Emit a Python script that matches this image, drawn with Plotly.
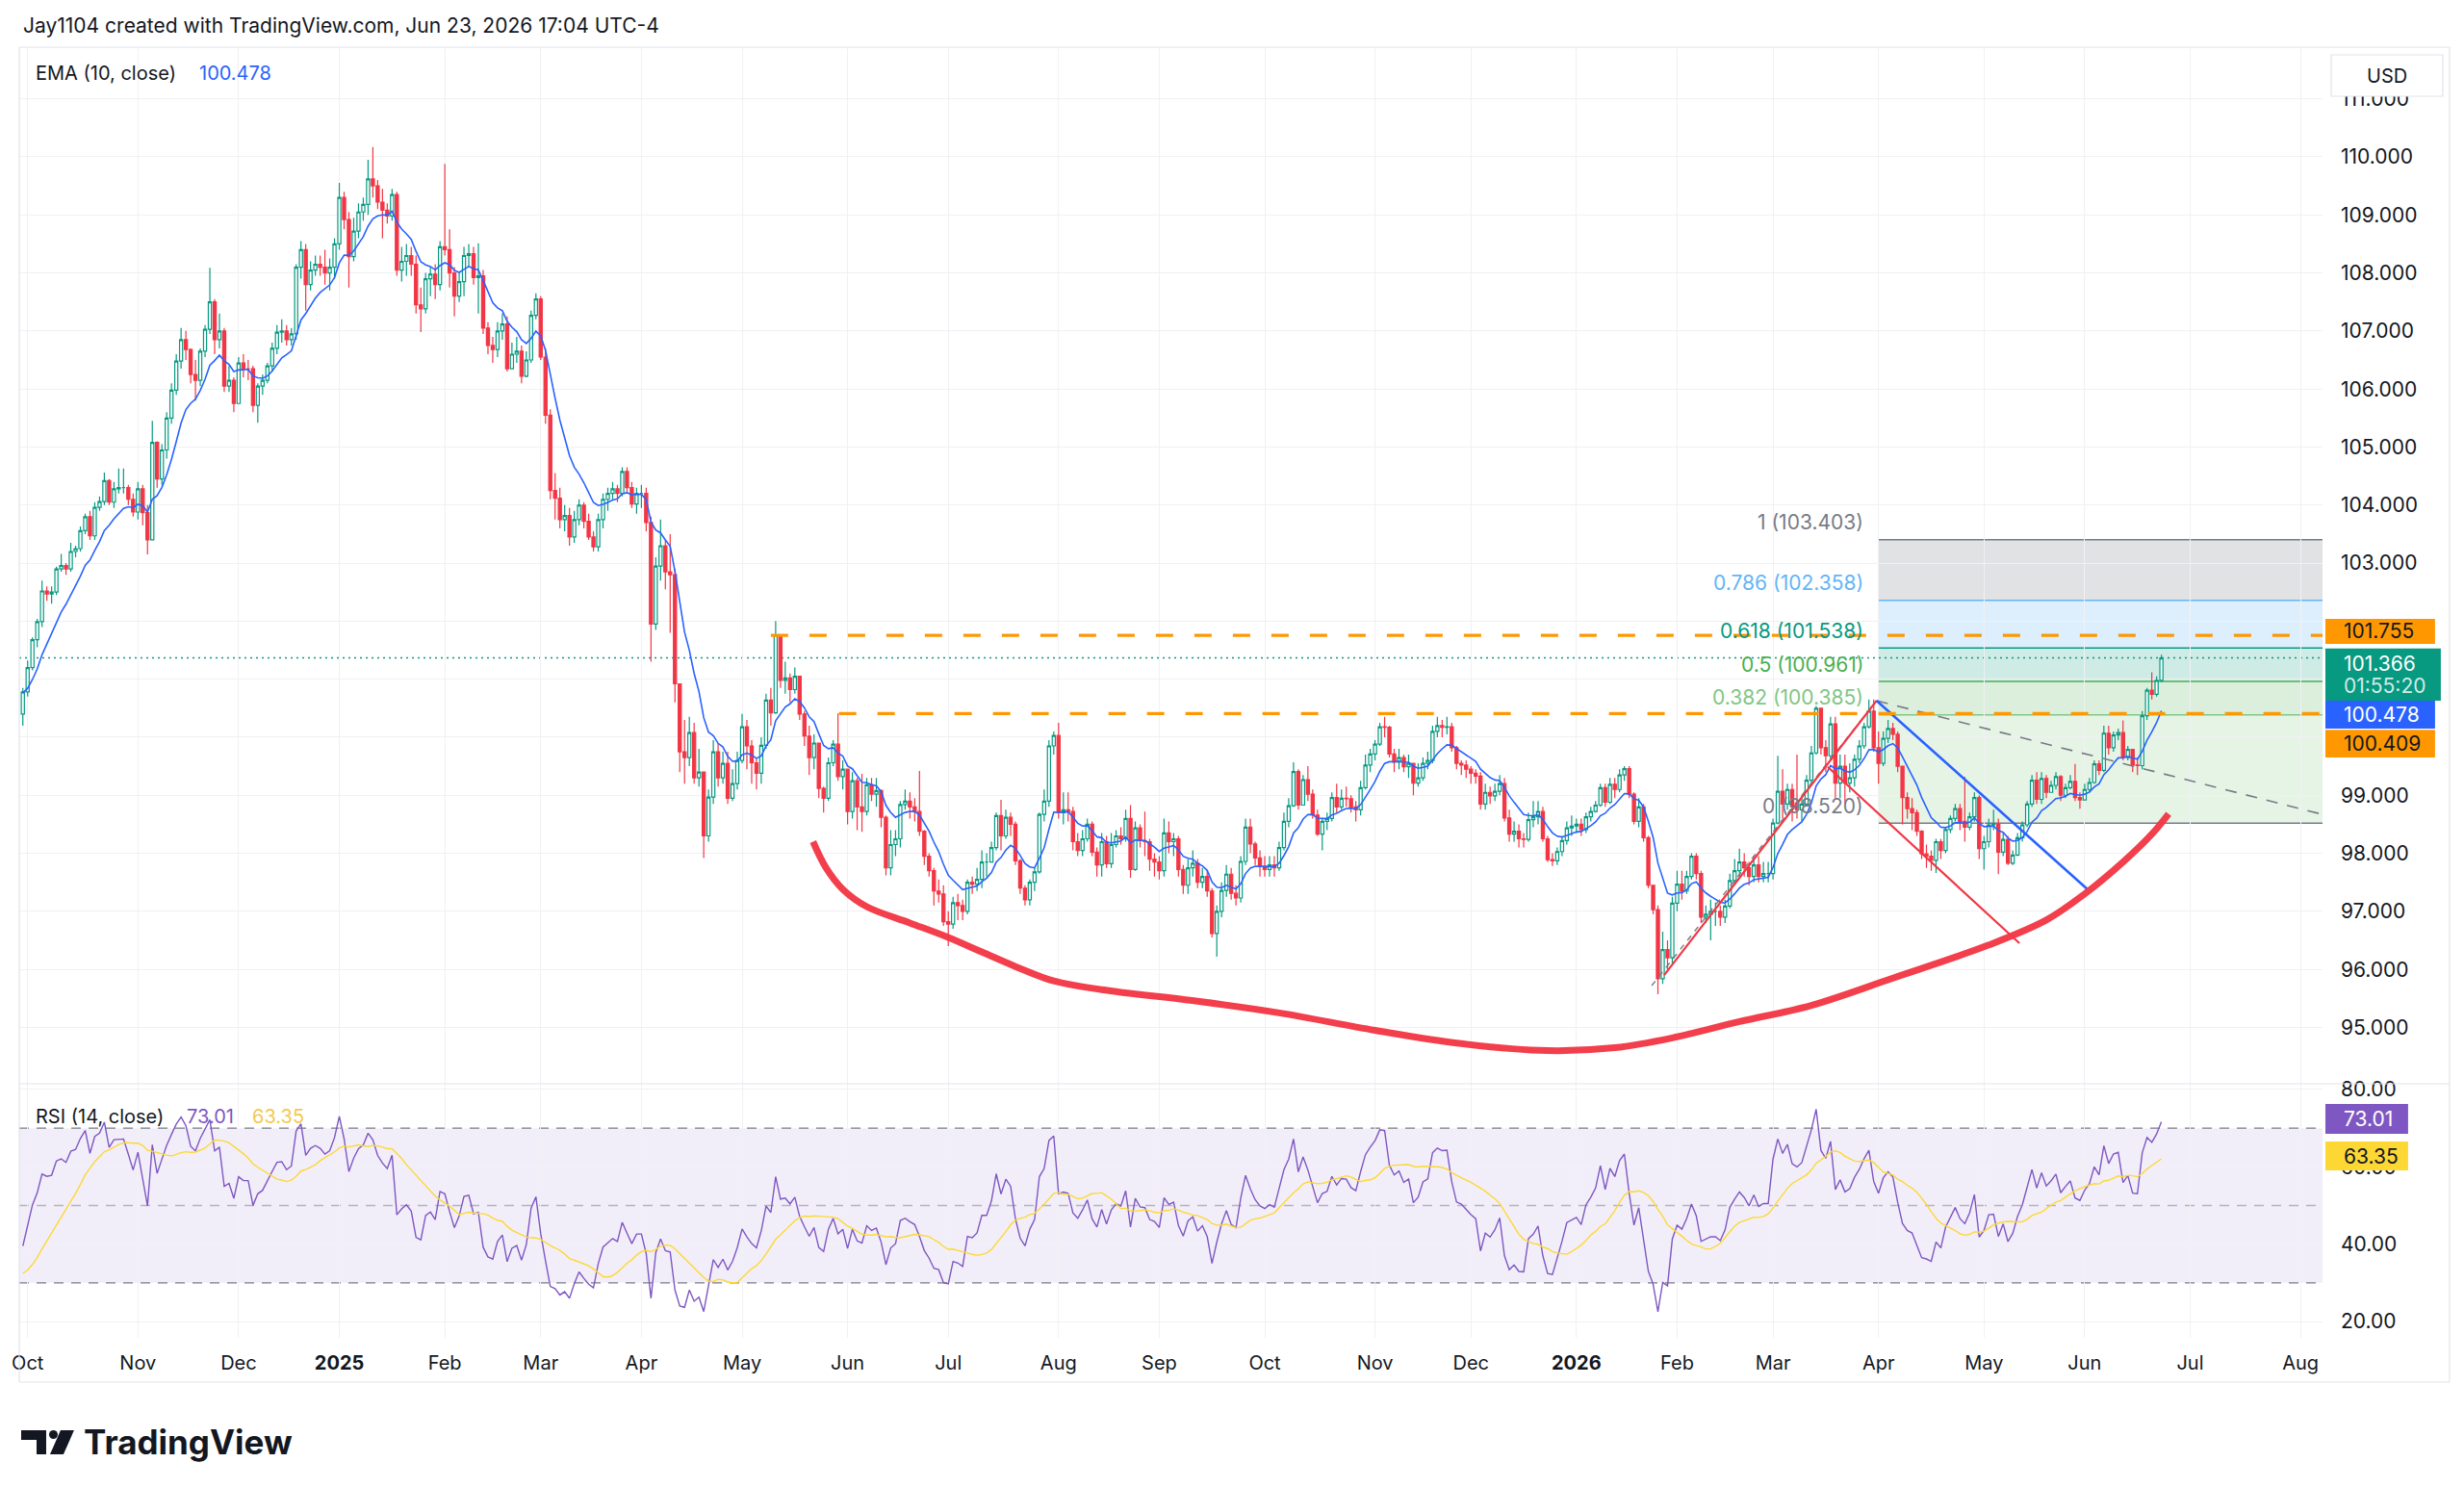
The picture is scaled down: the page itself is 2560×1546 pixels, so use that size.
import numpy as np
import pandas as pd
import plotly.graph_objects as go
from plotly.subplots import make_subplots

# ---------------------------------------------------------------
# daily closes / highs / lows (open = prev close)
# ---------------------------------------------------------------
# warm-up closes (Aug 12 - Sep 27 2024), only used for EMA / RSI
warm_close = [103.15, 102.6, 102.6, 103.0, 102.45, 101.85, 101.45, 101.1, 101.5, 100.7,
              100.85, 100.55, 101.1, 101.35, 101.7, 101.65, 101.85, 101.35, 101.1, 101.2,
              101.6, 101.65, 101.7, 101.35, 101.1, 100.75, 100.9, 100.65, 101.2, 100.7,
              100.85, 100.4, 100.9, 100.55, 100.4]

c_2409 = [100.78]
h_2409 = [100.85]
l_2409 = [100.2]

c_2410 = [101.2, 101.68, 101.99, 102.52, 102.47, 102.5, 102.9, 102.96, 102.9, 103.2, 103.25, 103.56,
          103.8, 103.47, 103.96, 104.06, 104.42, 104.05, 104.28, 104.3, 104.3, 104.1, 103.88]
h_2410 = [101.32, 101.72, 102.04, 102.7, 102.6, 102.6, 102.94, 103.16, 103.0, 103.35, 103.3, 103.63,
          103.85, 103.9, 104.05, 104.15, 104.56, 104.45, 104.4, 104.63, 104.63, 104.35, 104.2]
l_2410 = [100.7, 101.15, 101.55, 101.9, 102.35, 102.3, 102.45, 102.85, 102.8, 102.85, 103.1, 103.2,
          103.5, 103.4, 103.4, 103.9, 104.0, 104.0, 103.95, 104.2, 104.2, 104.0, 103.8]

c_2411 = [104.28, 103.87, 103.4, 105.08, 104.45, 104.95, 105.5, 105.98, 106.48, 106.85, 106.68,
          106.25, 106.15, 106.65, 107.03, 107.5, 106.85, 107.0, 106.05, 106.15, 105.75]
h_2411 = [104.4, 104.35, 104.0, 105.45, 105.1, 105.05, 105.6, 106.1, 106.6, 107.05, 107.0,
          106.7, 106.5, 106.7, 107.1, 108.09, 107.55, 107.3, 107.05, 106.4, 106.2]
l_2411 = [103.75, 103.65, 103.15, 103.4, 104.3, 104.35, 104.8, 105.4, 105.9, 106.35, 106.5,
          106.1, 105.8, 106.05, 106.55, 106.95, 106.6, 106.7, 105.95, 105.95, 105.6]

c_2412 = [106.45, 106.35, 106.35, 105.72, 106.05, 106.15, 106.4, 106.7, 106.98, 107.0, 106.85,
          106.95, 108.1, 108.4, 107.8, 108.05, 108.15, 108.1, 108.0, 108.1, 108.5]
h_2412 = [106.55, 106.6, 106.5, 106.4, 106.1, 106.25, 106.45, 106.8, 107.1, 107.2, 107.1,
          107.05, 108.15, 108.55, 108.5, 108.2, 108.3, 108.3, 108.4, 108.25, 108.6]
l_2412 = [105.75, 106.2, 106.15, 105.6, 105.42, 105.9, 106.1, 106.3, 106.6, 106.8, 106.75,
          106.75, 106.85, 107.9, 107.35, 107.7, 107.95, 107.95, 107.8, 107.7, 107.9]

c_2501 = [109.3, 108.92, 108.28, 108.72, 109.05, 109.18, 109.62, 109.5, 109.22, 109.08, 108.98,
          109.35, 108.05, 108.2, 108.3, 108.15, 107.45, 107.38, 107.9, 107.98, 107.8, 108.45]
h_2501 = [109.55, 109.4, 109.05, 108.95, 109.2, 109.3, 109.95, 110.17, 109.6, 109.45, 109.2,
          109.45, 109.4, 108.45, 108.5, 108.45, 108.3, 107.75, 108.0, 108.1, 108.15, 108.55]
l_2501 = [108.4, 108.75, 107.75, 108.2, 108.6, 108.9, 109.0, 109.3, 109.1, 108.6, 108.85,
          108.9, 107.95, 107.85, 107.95, 107.95, 107.3, 106.98, 107.3, 107.6, 107.55, 107.7]

c_2502 = [108.4, 108.0, 107.6, 107.85, 108.3, 108.33, 107.92, 107.95, 107.05, 106.75,
          106.68, 107.0, 107.12, 106.35, 106.6, 106.65, 106.22, 106.5, 107.27, 107.55]
h_2502 = [109.88, 108.75, 108.1, 108.0, 108.45, 108.5, 108.45, 108.51, 108.05, 107.15,
          106.9, 107.15, 107.3, 107.25, 106.8, 106.9, 106.75, 106.65, 107.35, 107.65]
l_2502 = [108.3, 107.75, 107.25, 107.5, 107.6, 108.1, 107.8, 107.3, 106.95, 106.6,
          106.45, 106.55, 106.85, 106.3, 106.35, 106.45, 106.1, 106.2, 106.45, 107.2]

c_2503 = [106.55, 105.55, 104.25, 104.12, 103.75, 103.82, 103.45, 103.75, 104.0, 103.72, 103.45,
          103.28, 103.75, 104.1, 104.2, 104.28, 104.2, 104.58, 104.3, 104.02, 104.2]
h_2503 = [107.6, 106.7, 105.65, 104.55, 104.3, 104.0, 103.95, 103.9, 104.1, 104.05, 103.85,
          103.55, 103.85, 104.2, 104.3, 104.4, 104.35, 104.65, 104.65, 104.4, 104.3]
l_2503 = [106.5, 105.4, 104.1, 103.75, 103.6, 103.55, 103.3, 103.35, 103.65, 103.6, 103.4,
          103.2, 103.2, 103.6, 103.9, 104.1, 104.05, 104.15, 104.2, 103.95, 103.85]

c_2504 = [104.2, 103.7, 101.95, 102.95, 103.3, 102.85, 102.8, 100.92, 99.75, 99.65, 100.08,
          99.3, 99.4, 98.3, 98.97, 99.75, 99.3, 99.55, 98.95, 99.2, 99.6]
h_2504 = [104.35, 104.3, 103.8, 103.1, 103.75, 103.4, 103.5, 102.9, 100.9, 100.3, 100.35,
          100.25, 99.8, 99.4, 99.1, 99.95, 99.9, 99.75, 99.75, 99.45, 99.75]
l_2504 = [103.95, 103.55, 101.3, 101.85, 102.7, 102.55, 101.8, 100.6, 99.4, 99.2, 99.5,
          99.2, 99.15, 97.92, 98.2, 98.85, 99.15, 99.2, 98.85, 98.9, 99.1]

c_2505 = [100.18, 99.85, 99.56, 99.38, 99.86, 100.64, 100.42, 101.76, 100.98, 101.02, 100.82,
          101.05, 100.4, 100.02, 99.65, 99.9, 99.12, 98.95, 99.56, 99.88, 99.32, 99.45]
h_2505 = [100.4, 100.3, 99.95, 99.65, 100.0, 100.75, 100.85, 102.0, 101.75, 101.3, 101.1,
          101.2, 101.0, 100.45, 100.2, 100.05, 99.9, 99.15, 99.65, 99.95, 100.41, 99.6]
l_2505 = [99.55, 99.45, 99.2, 99.1, 99.2, 99.8, 100.2, 100.4, 100.85, 100.75, 100.6,
          100.75, 100.3, 99.85, 99.35, 99.45, 98.95, 98.7, 98.9, 99.5, 99.25, 99.1]

c_2506 = [98.72, 99.25, 98.8, 98.72, 99.18, 99.02, 99.08, 98.62, 97.75, 98.15, 98.25,
          98.84, 98.9, 98.8, 98.72, 98.38, 97.95, 97.7, 97.35, 97.3, 96.82]
h_2506 = [99.2, 99.4, 99.3, 99.37, 99.3, 99.3, 99.3, 99.1, 98.65, 98.4, 98.4,
          98.9, 99.1, 99.05, 98.95, 99.42, 98.4, 98.0, 97.75, 97.55, 97.45]
l_2506 = [98.5, 98.6, 98.4, 98.37, 98.65, 98.9, 98.8, 98.45, 97.62, 97.62, 97.95,
          98.1, 98.75, 98.6, 98.55, 98.3, 97.8, 97.6, 97.1, 97.15, 96.75]

c_2507 = [96.78, 97.15, 97.1, 97.0, 97.5, 97.47, 97.55, 97.85, 97.85, 98.1, 98.65, 98.3,
          98.62, 98.5, 97.87, 97.4, 97.2, 97.5, 97.68, 98.67, 98.9, 99.85, 100.03]
h_2507 = [97.0, 97.25, 97.3, 97.2, 97.55, 97.6, 97.75, 98.05, 98.0, 98.2, 98.7, 98.92,
          98.75, 98.7, 98.55, 97.9, 97.45, 97.55, 97.75, 98.7, 99.1, 99.95, 100.1]
l_2507 = [96.4, 96.7, 96.85, 96.85, 96.95, 97.3, 97.35, 97.4, 97.6, 97.85, 98.05, 98.05,
          98.25, 98.3, 97.8, 97.3, 97.1, 97.1, 97.35, 97.65, 98.55, 98.8, 99.7]

c_2508 = [98.7, 98.75, 98.72, 98.2, 98.05, 98.25, 98.5, 98.02, 97.8, 98.2, 97.82,
          98.15, 98.3, 98.25, 98.6, 97.72, 98.44, 98.22, 98.2, 97.9, 97.85]
h_2508 = [100.25, 99.05, 99.05, 98.8, 98.35, 98.4, 98.6, 98.55, 98.1, 98.35, 98.3,
          98.35, 98.4, 98.45, 98.75, 98.83, 98.55, 98.5, 98.72, 98.25, 98.0]
l_2508 = [98.6, 98.5, 98.55, 98.05, 97.95, 97.95, 98.2, 97.95, 97.6, 97.6, 97.75,
          97.75, 98.1, 98.15, 98.2, 97.58, 97.7, 98.1, 97.95, 97.7, 97.6]

c_2509 = [97.7, 98.35, 98.2, 98.25, 97.72, 97.45, 97.75, 97.83, 97.5, 97.6, 97.35,
          96.62, 97.0, 97.36, 97.64, 97.31, 97.23, 97.86, 98.45, 98.16, 97.92, 97.78]
h_2509 = [97.95, 98.6, 98.55, 98.35, 98.3, 97.8, 97.9, 98.05, 97.9, 97.75, 97.7,
          97.4, 97.1, 97.5, 97.8, 97.75, 97.45, 97.95, 98.6, 98.6, 98.2, 98.05]
l_2509 = [97.55, 97.6, 98.0, 97.95, 97.6, 97.3, 97.3, 97.6, 97.4, 97.4, 97.25,
          96.55, 96.22, 96.9, 97.25, 97.2, 97.1, 97.15, 97.8, 98.0, 97.8, 97.6]

c_2510 = [97.72, 97.8, 97.75, 98.1, 98.55, 98.82, 99.41, 98.83, 99.27, 99.02, 98.66, 98.33,
          98.55, 98.6, 98.96, 98.8, 98.95, 98.94, 98.8, 98.75, 99.13, 99.52, 99.71]
h_2510 = [97.95, 97.95, 97.95, 98.2, 98.7, 98.95, 99.57, 99.45, 99.35, 99.5, 99.1, 98.75,
          98.6, 98.7, 99.05, 99.2, 99.1, 99.15, 99.0, 98.9, 99.25, 99.7, 99.8]
l_2510 = [97.6, 97.6, 97.6, 97.7, 98.05, 98.45, 98.8, 98.75, 98.85, 98.9, 98.6, 98.3,
          98.05, 98.4, 98.55, 98.7, 98.75, 98.8, 98.7, 98.55, 98.65, 99.1, 99.4]

c_2511 = [99.88, 100.18, 100.17, 99.71, 99.57, 99.65, 99.49, 99.55, 99.21, 99.3,
          99.55, 99.6, 100.1, 100.2, 100.17, 100.18, 99.82, 99.55, 99.52, 99.45]
h_2511 = [99.95, 100.25, 100.35, 100.2, 99.8, 99.8, 99.7, 99.7, 99.55, 99.55,
          99.65, 99.75, 100.2, 100.35, 100.3, 100.35, 100.25, 99.85, 99.6, 99.6]
l_2511 = [99.6, 99.85, 100.0, 99.65, 99.4, 99.45, 99.4, 99.3, 99.0, 99.15,
          99.25, 99.45, 99.55, 100.0, 100.0, 100.05, 99.75, 99.45, 99.35, 99.3]

c_2512 = [99.38, 99.33, 98.85, 99.05, 98.99, 99.07, 99.2, 98.61, 98.33, 98.38, 98.25,
          98.24, 98.58, 98.63, 98.72, 98.25, 97.89, 97.87, 98.03, 98.22, 98.44, 98.47]
h_2512 = [99.5, 99.45, 99.4, 99.2, 99.15, 99.2, 99.35, 99.3, 98.75, 98.55, 98.5,
          98.35, 98.7, 98.9, 98.9, 98.8, 98.3, 98.0, 98.1, 98.3, 98.55, 98.65]
l_2512 = [99.2, 99.2, 98.75, 98.75, 98.85, 98.9, 99.0, 98.55, 98.2, 98.2, 98.1,
          98.1, 98.2, 98.45, 98.5, 98.2, 97.85, 97.78, 97.8, 97.95, 98.15, 98.3]

c_2601 = [98.5, 98.41, 98.63, 98.72, 98.83, 99.13, 98.88, 99.19, 99.1, 99.35, 99.46,
          99.02, 98.55, 98.8, 98.27, 97.45, 97.03, 95.84, 96.34, 96.2, 97.14]
h_2601 = [98.6, 98.6, 98.7, 98.8, 98.9, 99.2, 99.2, 99.3, 99.3, 99.45, 99.5,
          99.5, 99.05, 98.95, 98.85, 98.3, 97.35, 97.1, 96.65, 96.5, 97.25]
l_2601 = [98.35, 98.3, 98.35, 98.55, 98.7, 98.8, 98.8, 98.85, 98.95, 99.05, 99.25,
          98.95, 98.5, 98.45, 98.2, 97.4, 96.95, 95.57, 95.75, 96.0, 96.1]

c_2602 = [97.47, 97.35, 97.6, 97.95, 97.65, 96.9, 96.95, 97.0, 97.0, 96.9,
          97.09, 97.53, 97.7, 97.85, 97.75, 97.6, 97.8, 97.6, 97.65, 97.65]
h_2602 = [97.7, 97.7, 97.7, 98.0, 98.0, 97.7, 97.1, 97.2, 97.15, 97.1,
          97.2, 97.65, 97.9, 98.08, 98.0, 97.85, 97.95, 97.95, 97.85, 97.85]
l_2602 = [97.0, 97.2, 97.3, 97.55, 97.55, 96.8, 96.8, 96.5, 96.75, 96.75,
          96.8, 97.05, 97.45, 97.6, 97.6, 97.45, 97.5, 97.5, 97.5, 97.5]

c_2603 = [98.52, 99.07, 98.85, 99.1, 98.8, 98.75, 98.85, 99.26, 99.73, 100.5, 99.82,
          99.68, 100.23, 99.21, 99.5, 99.21, 99.3, 99.62, 99.85, 100.18, 100.45, 99.82]
h_2603 = [98.6, 99.68, 99.45, 99.2, 99.2, 99.7, 99.0, 99.35, 99.85, 100.54, 100.45,
          99.95, 100.35, 100.35, 99.7, 99.7, 99.55, 99.7, 99.95, 100.25, 100.65, 100.65]
l_2603 = [97.55, 98.5, 98.6, 98.75, 98.55, 98.6, 98.55, 98.8, 99.2, 99.7, 99.7,
          99.4, 99.6, 98.95, 98.95, 98.85, 99.05, 99.15, 99.55, 99.8, 100.15, 99.75]

c_2604 = [99.55, 99.98, 100.15, 100.05, 99.5, 98.96, 98.77, 98.7, 98.38, 97.99, 97.95,
          97.88, 98.2, 98.05, 98.41, 98.6, 98.77, 98.55, 98.45, 98.63, 98.96, 98.08]
h_2604 = [100.1, 100.1, 100.3, 100.25, 100.1, 99.18, 99.05, 98.95, 98.75, 98.4, 98.15,
          98.05, 98.25, 98.25, 98.45, 98.65, 98.85, 98.85, 99.32, 98.7, 99.05, 99.0]
l_2604 = [99.2, 99.5, 99.9, 99.95, 99.4, 98.5, 98.6, 98.4, 98.3, 97.9, 97.75,
          97.7, 97.66, 97.9, 98.0, 98.35, 98.55, 98.4, 98.2, 98.4, 98.55, 97.9]

c_2605 = [98.2, 98.49, 98.5, 98.02, 98.24, 97.83, 97.97, 98.27, 98.49, 98.85, 99.26,
          98.93, 99.29, 99.05, 99.17, 99.32, 99.0, 99.13, 99.24, 98.96, 98.92]
h_2605 = [98.3, 98.6, 98.75, 98.6, 98.35, 98.3, 98.05, 98.35, 98.55, 98.9, 99.35,
          99.4, 99.4, 99.35, 99.25, 99.4, 99.35, 99.2, 99.35, 99.54, 99.05]
l_2605 = [97.72, 98.1, 98.4, 97.64, 97.95, 97.8, 97.8, 97.95, 98.2, 98.45, 98.8,
          98.85, 98.85, 98.95, 99.05, 99.1, 98.9, 98.95, 99.1, 98.9, 98.77]

c_2606 = [99.1, 99.22, 99.54, 99.43, 100.07, 99.82, 100.04, 100.08, 99.65, 99.79,
          99.52, 99.51, 100.37, 100.81, 100.74, 100.98, 101.366]
h_2606 = [99.2, 99.3, 99.6, 99.6, 100.2, 100.2, 100.1, 100.15, 100.29, 99.85,
          99.8, 99.65, 100.45, 100.85, 101.12, 101.05, 101.42]
l_2606 = [98.95, 99.05, 99.2, 99.35, 99.4, 99.7, 99.75, 99.95, 99.6, 99.6,
          99.4, 99.35, 99.45, 100.3, 100.65, 100.7, 100.95]

months = ["2409", "2410", "2411", "2412", "2501", "2502", "2503", "2504", "2505", "2506", "2507",
          "2508", "2509", "2510", "2511", "2512", "2601", "2602", "2603", "2604", "2605", "2606"]
close, high, low = [], [], []
for m in months:
    cm, hm, lm = globals()["c_" + m], globals()["h_" + m], globals()["l_" + m]
    assert len(cm) == len(hm) == len(lm), m
    close += cm
    high += hm
    low += lm

# days the index did not print
holidays = ["2024-12-25", "2025-01-01", "2025-04-18", "2025-12-25", "2026-01-01"]

# price scale labels (the ones under the price tags are covered in the original)
price_ticks = list(range(95, 112))
covered_ticks = [100, 101, 102]

# fib retracement levels of the drawing
fib_levels = [1, 0.786, 0.618, 0.5, 0.382, 0]
fib_prices = [103.403, 102.358, 101.538, 100.961, 100.385, 98.520]
fib_colors = ["#787b86", "#64b5f6", "#089981", "#4caf50", "#81c784", "#787b86"]
fib_fills = ["rgba(120,123,134,0.22)", "rgba(100,181,246,0.22)", "rgba(8,153,129,0.2)",
             "rgba(76,175,80,0.2)", "rgba(129,199,132,0.2)"]

# horizontal levels drawn by the author
level_prices = [101.755, 100.409]
level_start = [156.0, 170.2]          # bar index where the dashes start

# hand drawn pieces (bar index, price)
curve_idx = [164.8, 167.5, 171, 176, 185, 193, 200, 207, 215, 225, 245, 262, 282, 300, 318, 332,
             344, 358, 373, 390, 410, 422, 430, 438, 444, 447.5]
curve_px = [98.2, 97.75, 97.38, 97.08, 96.8, 96.55, 96.3, 96.05, 95.8, 95.65, 95.45, 95.25, 94.95,
            94.72, 94.6, 94.65, 94.82, 95.1, 95.38, 95.85, 96.42, 96.85, 97.3, 97.85, 98.33, 98.68]
trend_lines = [  # (idx0, px0, idx1, px1, color, width, dash)
    (339.7, 95.72, 386.6, 100.63, "#787b86", 1.4, "6px,6px"),
    (386.6, 100.63, 479.6, 98.67, "#787b86", 1.6, "12px,10px"),
    (342.3, 95.9, 386.6, 100.63, "#f23645", 2.2, "solid"),
    (376.4, 99.49, 416.4, 96.45, "#f23645", 2.2, "solid"),
    (386.6, 100.63, 430.6, 97.38, "#2962ff", 2.6, "solid"),
]

UP = "#089981"
DOWN = "#f23645"
GRID = "#f0f1f4"
TXT = "#131722"

# ---------------------------------------------------------------
cal = pd.bdate_range("2024-08-12", "2026-09-30")
cal = cal[~cal.isin(pd.to_datetime(holidays))]
n0 = len(warm_close)
dates = cal[n0:n0 + len(close)]
assert str(dates[0].date()) == "2024-09-30" and str(dates[-1].date()) == "2026-06-23", dates[-1]


def bar_time(k):
    base = int(np.floor(k))
    return cal[n0 + base] + pd.Timedelta(days=float(k - base))


# indicators
s = pd.Series(warm_close + close)
ema = s.ewm(span=10, adjust=False).mean().iloc[n0:]
d = s.diff()
gain = d.clip(lower=0).ewm(alpha=1 / 14, adjust=False).mean()
loss = (-d.clip(upper=0)).ewm(alpha=1 / 14, adjust=False).mean()
rsi = 100 - 100 / (1 + gain / loss)
rsi_ma = rsi.rolling(14).mean()
rsi, rsi_ma = rsi.iloc[n0:], rsi_ma.iloc[n0:]

opens = [warm_close[-1]] + close[:-1]
highs = [max(h, o, c) for h, o, c in zip(high, opens, close)]
lows = [min(l, o, c) for l, o, c in zip(low, opens, close)]

x_left = bar_time(-0.75)
x_right = bar_time(len(close) - 1 + 33.6)

# month ticks on first trading day
tick_vals, tick_text = [], []
for per, grp in pd.Series(cal, index=cal).groupby(cal.to_period("M")):
    first = grp.iloc[0]
    if first < pd.Timestamp("2024-10-01") or first > pd.Timestamp("2026-08-31"):
        continue
    tick_vals.append(first)
    tick_text.append(f"<b>{first.year}</b>" if first.month == 1 else first.strftime("%b"))

# ---------------------------------------------------------------
fig = make_subplots(rows=2, cols=1, shared_xaxes=True, vertical_spacing=0,
                    row_heights=[0.8031, 0.1969])

fig.add_trace(go.Candlestick(
    x=dates, open=opens, high=highs, low=lows, close=close,
    increasing=dict(line=dict(color=UP, width=1.2), fillcolor="#ffffff"),
    decreasing=dict(line=dict(color=DOWN, width=1.2), fillcolor=DOWN),
    whiskerwidth=0, hoverinfo="skip", showlegend=False), row=1, col=1)

fig.add_trace(go.Scatter(x=dates, y=ema, mode="lines", line=dict(color="#2962ff", width=1.6),
                         hoverinfo="skip"), row=1, col=1)

# drawings
for x0, y0, x1, y1, col, w, dash in trend_lines:
    fig.add_trace(go.Scatter(x=[bar_time(x0), bar_time(x1)], y=[y0, y1], mode="lines",
                             line=dict(color=col, width=w, dash=dash), hoverinfo="skip"),
                  row=1, col=1)
fig.add_trace(go.Scatter(x=[bar_time(k) for k in curve_idx], y=curve_px, mode="lines",
                         line=dict(color="rgba(242,54,69,0.96)", width=7, shape="spline", smoothing=1.0),
                         hoverinfo="skip"), row=1, col=1)

# RSI pane
fig.add_trace(go.Scatter(x=dates, y=rsi, mode="lines", line=dict(color="#7e57c2", width=1.4),
                         hoverinfo="skip"), row=2, col=1)
fig.add_trace(go.Scatter(x=dates, y=rsi_ma, mode="lines", line=dict(color="#fdd835", width=1.4),
                         hoverinfo="skip"), row=2, col=1)

fig.add_shape(type="rect", xref="x2 domain", yref="y2", x0=0, x1=1, y0=30, y1=70,
              fillcolor="rgba(126,87,194,0.1)", line_width=0, layer="below")
for lv, col in [(70, "#787b86"), (50, "#b2b5be"), (30, "#787b86")]:
    fig.add_shape(type="line", xref="x2 domain", yref="y2", x0=0, x1=1, y0=lv, y1=lv,
                  line=dict(color=col, width=1.3, dash="10px,8px"), layer="below")

# fib box
fx0 = bar_time(387)
for i in range(len(fib_fills)):
    fig.add_shape(type="rect", xref="x", yref="y", x0=fx0, x1=x_right,
                  y0=fib_prices[i + 1], y1=fib_prices[i], fillcolor=fib_fills[i],
                  line_width=0, layer="below")
for lv, p, col in zip(fib_levels, fib_prices, fib_colors):
    fig.add_shape(type="line", xref="x", yref="y", x0=fx0, x1=x_right, y0=p, y1=p,
                  line=dict(color=col, width=1.6), layer="below")
    fig.add_annotation(x=fx0, y=p, xref="x", yref="y", xanchor="right", yanchor="middle",
                       xshift=-14, yshift=18, showarrow=False, text=f"{lv} ({p:.3f})",
                       font=dict(size=21, color=col))

# author levels + last price line
for p, k in zip(level_prices, level_start):
    fig.add_shape(type="line", xref="x", yref="y", x0=bar_time(k), x1=x_right, y0=p, y1=p,
                  line=dict(color="#ff9800", width=3.2, dash="18px,22px"), layer="above")
fig.add_shape(type="line", xref="x domain", yref="y", x0=0, x1=1, y0=close[-1], y1=close[-1],
              line=dict(color=UP, width=1.5, dash="2px,4px"), layer="below")

# ---------------------------------------------------------------
W, L0, B0, H = 2395.0, 18.0, 1390.0, 1341.0


def px(x):
    return (x - L0) / W


def py(y):
    return (B0 - y) / H


def note(x, y, text, size=20, color=TXT, xanchor="left"):
    fig.add_annotation(x=px(x), y=py(y), xref="paper", yref="paper", xanchor=xanchor,
                       yanchor="middle", showarrow=False, text=text,
                       font=dict(size=size, color=color))


def tag(y0, y1, color, x1=2530, yref="y"):
    fig.add_shape(type="rect", xref="paper", yref=yref, x0=px(2416), x1=px(x1), y0=y0, y1=y1,
                  fillcolor=color, line_width=0, layer="above")


def tag_text(y, text, color, yref="y", size=21):
    fig.add_annotation(x=px(2433), y=y, xref="paper", yref=yref, xanchor="left", yanchor="middle",
                       showarrow=False, text=text, font=dict(size=size, color=color))


tag(101.61, 102.04, "#ff9800")
tag_text(101.825, "101.755", TXT)
tag(100.63, 101.53, UP, x1=2536)
tag_text(101.26, "101.366", "#ffffff")
tag_text(100.88, "01:55:20", "rgba(255,255,255,0.82)")
tag(100.15, 100.63, "#2962ff")
tag_text(100.39, "100.478", "#ffffff")
tag(99.65, 100.13, "#ff9800")
tag_text(99.89, "100.409", TXT)
tag(68.55, 76.27, "#7e57c2", x1=2502, yref="y2")
tag_text(72.41, "73.01", "#ffffff", yref="y2")
tag(59.09, 66.56, "#fdd835", x1=2502, yref="y2")
tag_text(62.8, "63.35", TXT, yref="y2")

# USD button
fig.add_shape(type="rect", xref="paper", yref="paper", x0=px(2422), x1=px(2538), y0=py(100),
              y1=py(57), fillcolor="#ffffff", line=dict(color="#e0e3eb", width=1.2), layer="above")
note(2480, 79, "USD", xanchor="center")

# frame
for x0, y0, x1, y1 in [(18, 49, 2545, 49), (18, 49, 18, 1436), (2545, 49, 2545, 1436),
                       (18, 1436, 2545, 1436), (18, 1126, 2545, 1126)]:
    fig.add_shape(type="line", xref="paper", yref="paper", x0=px(x0), x1=px(x1), y0=py(y0),
                  y1=py(y1), line=dict(color="#e0e3eb", width=1.2), layer="above")

# texts
note(20, 26, "Jay1104 created with TradingView.com, Jun 23, 2026 17:04 UTC-4", size=21)
note(33, 76, "EMA (10, close)")
note(203, 76, "100.478", color="#2962ff")
note(33, 1160, "RSI (14, close)")
note(190, 1160, "73.01", color="#7e57c2")
note(258, 1160, "63.35", color="#f2c94c")

# TradingView logo
logo = "M {} {} L {} {} L {} {} L {} {} L {} {} L {} {} Z".format(
    px(20), py(1486), px(46), py(1486), px(46), py(1511), px(36), py(1511), px(36), py(1496),
    px(20), py(1496))
slash = "M {} {} L {} {} L {} {} L {} {} Z".format(
    px(61), py(1486), px(75), py(1486), px(64), py(1511), px(50), py(1511))
fig.add_shape(type="path", xref="paper", yref="paper", path=logo, fillcolor=TXT, line_width=0)
fig.add_shape(type="path", xref="paper", yref="paper", path=slash, fillcolor=TXT, line_width=0)
fig.add_shape(type="circle", xref="paper", yref="paper", x0=px(49), x1=px(58), y0=py(1495),
              y1=py(1486), fillcolor=TXT, line_width=0)
note(83, 1498, "<b>TradingView</b>", size=35)

# ---------------------------------------------------------------
fig.update_layout(width=2560, height=1546, margin=dict(l=18, r=147, t=49, b=156),
                  paper_bgcolor="white", plot_bgcolor="white", showlegend=False, hovermode=False,
                  font=dict(family="Inter, Roboto, sans-serif", color=TXT),
                  boxgap=0.25, boxgroupgap=0.15)

fig.update_xaxes(type="date", range=[x_left, x_right],
                 rangebreaks=[dict(bounds=["sat", "mon"]), dict(values=holidays)],
                 tickvals=tick_vals, ticktext=tick_text, showgrid=True, gridcolor=GRID, gridwidth=1,
                 zeroline=False, showline=False, ticks="", rangeslider=dict(visible=False))
fig.update_xaxes(showticklabels=False, row=1, col=1)
fig.update_xaxes(showticklabels=True, tickfont=dict(size=20, color=TXT), ticklabelstandoff=12,
                 row=2, col=1)

fig.update_yaxes(side="right", range=[94.03, 111.89], tickvals=price_ticks,
                 ticktext=["" if v in covered_ticks else f"{v:.3f}" for v in price_ticks],
                 showgrid=True, gridcolor=GRID, zeroline=False, ticks="", showline=False,
                 tickfont=dict(size=21, color=TXT), ticklabelstandoff=18, row=1, col=1)
fig.update_yaxes(side="right", range=[15.77, 81.5], tickvals=[20, 40, 60, 80], tickformat=".2f",
                 showgrid=True, gridcolor=GRID, zeroline=False, ticks="", showline=False,
                 tickfont=dict(size=21, color=TXT), ticklabelstandoff=18, row=2, col=1)

fig.write_html("out.html", config={"displayModeBar": False},
               post_script="document.body.style.margin='0';document.body.style.overflow='hidden';")
